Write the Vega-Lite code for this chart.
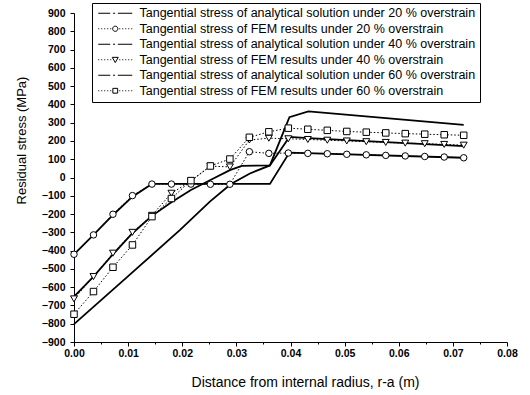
{
"$schema":"https://vega.github.io/schema/vega-lite/v6.json",
"autosize":"none",
"width":433,"height":329,
"padding":{"left":74,"top":13,"right":23,"bottom":53},
"background":"white",
"config":{"view":{"stroke":null},"font":"Liberation Sans"},
"datasets":{
"A20":[{"x":0,"y":-420},{"x":0.0036,"y":-314},{"x":0.0072,"y":-205},{"x":0.0108,"y":-105},{"x":0.0144,"y":-35},{"x":0.0362,"y":-35},{"x":0.0398,"y":136},{"x":0.072,"y":108}],
"A40":[{"x":0,"y":-652},{"x":0.0036,"y":-542},{"x":0.0072,"y":-420},{"x":0.0108,"y":-305},{"x":0.0144,"y":-210},{"x":0.018,"y":-135},{"x":0.0216,"y":-68},{"x":0.0252,"y":-14},{"x":0.0288,"y":40},{"x":0.031,"y":64},{"x":0.0362,"y":66},{"x":0.0398,"y":222},{"x":0.0433,"y":215},{"x":0.072,"y":172}],
"A60":[{"x":0,"y":-802},{"x":0.0098,"y":-545},{"x":0.0196,"y":-287},{"x":0.0251,"y":-132},{"x":0.029,"y":-36},{"x":0.0325,"y":22},{"x":0.0362,"y":66},{"x":0.0398,"y":330},{"x":0.0433,"y":362},{"x":0.072,"y":288}],
"F20":[{"x":0,"y":-420},{"x":0.0036,"y":-314},{"x":0.0072,"y":-201},{"x":0.0108,"y":-99},{"x":0.0144,"y":-36},{"x":0.018,"y":-36},{"x":0.0216,"y":-36},{"x":0.0252,"y":-37},{"x":0.0288,"y":-37},{"x":0.0324,"y":141},{"x":0.036,"y":132},{"x":0.0396,"y":134},{"x":0.0432,"y":132},{"x":0.0468,"y":130},{"x":0.0504,"y":127},{"x":0.054,"y":124},{"x":0.0576,"y":121},{"x":0.0612,"y":118},{"x":0.0648,"y":115},{"x":0.0684,"y":112},{"x":0.072,"y":108}],
"F40":[{"x":0,"y":-664},{"x":0.0036,"y":-542},{"x":0.0072,"y":-414},{"x":0.0108,"y":-300},{"x":0.0144,"y":-207},{"x":0.018,"y":-86},{"x":0.0216,"y":-20},{"x":0.0252,"y":62},{"x":0.0288,"y":58},{"x":0.0324,"y":205},{"x":0.036,"y":215},{"x":0.0396,"y":212},{"x":0.0432,"y":208},{"x":0.0468,"y":204},{"x":0.0504,"y":200},{"x":0.054,"y":196},{"x":0.0576,"y":192},{"x":0.0612,"y":188},{"x":0.0648,"y":185},{"x":0.0684,"y":181},{"x":0.072,"y":177}],
"F60":[{"x":0,"y":-748},{"x":0.0036,"y":-624},{"x":0.0072,"y":-491},{"x":0.0108,"y":-369},{"x":0.0144,"y":-214},{"x":0.018,"y":-115},{"x":0.0216,"y":-17},{"x":0.0252,"y":63},{"x":0.0288,"y":101},{"x":0.0324,"y":220},{"x":0.036,"y":250},{"x":0.0396,"y":270},{"x":0.0432,"y":264},{"x":0.0468,"y":258},{"x":0.0504,"y":252},{"x":0.054,"y":248},{"x":0.0576,"y":244},{"x":0.0612,"y":240},{"x":0.0648,"y":237},{"x":0.0684,"y":234},{"x":0.072,"y":231}],
"names":[{"s":"Tangential stress of analytical solution under 20 % overstrain","x":0,"y":0},{"s":"Tangential stress of FEM results under 20 % overstrain","x":0,"y":0},{"s":"Tangential stress of analytical solution under 40 % overstrain","x":0,"y":0},{"s":"Tangential stress of FEM results under 40 % overstrain","x":0,"y":0},{"s":"Tangential stress of analytical solution under 60 % overstrain","x":0,"y":0},{"s":"Tangential stress of FEM results under 60 % overstrain","x":0,"y":0}]
},
"encoding":{
"x":{"field":"x","type":"quantitative","scale":{"domain":[0,0.08],"nice":false,"zero":false},
"axis":{"values":[0,0.01,0.02,0.03,0.04,0.05,0.06,0.07,0.08],"format":".2f","title":"Distance from internal radius, r-a (m)","grid":false,"tickSize":4,"labelPadding":2,"labelFontSize":10.5,"labelFontWeight":"bold","labelFlush":false,"labelOverlap":false,"titleFontSize":14,"titleFontWeight":"normal","titleX":231,"titleY":40,"titleBaseline":"middle","titleAlign":"center","domainColor":"black","tickColor":"black","labelColor":"black","titleColor":"black","orient":"bottom"}},
"y":{"field":"y","type":"quantitative","scale":{"domain":[-900,900],"nice":false,"zero":false},
"axis":{"values":[-900,-800,-700,-600,-500,-400,-300,-200,-100,0,100,200,300,400,500,600,700,800,900],"title":"Residual stress (MPa)","grid":false,"tickSize":4,"labelPadding":5,"labelFontSize":10.5,"labelFontWeight":"bold","labelOverlap":false,"titleFontSize":13,"titleFontWeight":"normal","titleX":-53,"titleY":127,"titleAngle":-90,"titleBaseline":"middle","titleAlign":"center","domainColor":"black","tickColor":"black","labelColor":"black","titleColor":"black"}}
},
"resolve":{"axis":{"x":"independent"}},
"layer":[
{"layer":[
{"data":{"name":"A20"},"mark":{"type":"line","color":"black","strokeWidth":1.8}},
{"data":{"name":"A40"},"mark":{"type":"line","color":"black","strokeWidth":1.8}},
{"data":{"name":"A60"},"mark":{"type":"line","color":"black","strokeWidth":1.8}},
{"data":{"name":"F20"},"mark":{"type":"line","color":"black","strokeWidth":1,"strokeDash":[1.5,2]}},
{"data":{"name":"F40"},"mark":{"type":"line","color":"black","strokeWidth":1,"strokeDash":[1.5,2]}},
{"data":{"name":"F60"},"mark":{"type":"line","color":"black","strokeWidth":1,"strokeDash":[1.5,2]}},
{"data":{"name":"F20"},"mark":{"type":"point","shape":"circle","size":42,"filled":true,"fill":"white","stroke":"black","strokeWidth":1,"opacity":1}},
{"data":{"name":"F40"},"mark":{"type":"point","shape":"triangle-down","size":48,"filled":true,"fill":"white","stroke":"black","strokeWidth":1,"opacity":1}},
{"data":{"name":"F60"},"mark":{"type":"point","shape":"square","size":42,"filled":true,"fill":"white","stroke":"black","strokeWidth":1,"opacity":1}}
]},
{"data":{"name":"names"},"mark":{"type":"point","color":"black","size":64,"filled":false,"opacity":0},
"encoding":{
"x":{"field":"x","type":"quantitative","scale":{"domain":[0,0.08],"nice":false,"zero":false},"axis":{"orient":"bottom","values":[0.005,0.015,0.025,0.035,0.045,0.055,0.065,0.075],"labels":false,"domain":false,"grid":false,"tickSize":2,"tickColor":"black","title":null}},
"shape":{"field":"s","type":"nominal",
"scale":{"domain":["Tangential stress of analytical solution under 20 % overstrain","Tangential stress of FEM results under 20 % overstrain","Tangential stress of analytical solution under 40 % overstrain","Tangential stress of FEM results under 40 % overstrain","Tangential stress of analytical solution under 60 % overstrain","Tangential stress of FEM results under 60 % overstrain"],
"range":[
"M-1,0L2,0M2.7,0L3.2,0M3.9,0L7.5,0",
"M-1,0L-0.75,0M-0.25,0L0,0M0.5,0L0.75,0M1.25,0L1.5,0M2,0L2.25,0M2.6,0A0.65,0.65 0 1 1 3.9,0A0.65,0.65 0 1 1 2.6,0ZM4.25,0L4.5,0M5,0L5.25,0M5.75,0L6,0M6.5,0L6.75,0M7.25,0L7.5,0",
"M-1,0L2,0M2.7,0L3.2,0M3.9,0L7.5,0",
"M-1,0L-0.75,0M-0.25,0L0,0M0.5,0L0.75,0M1.25,0L1.5,0M2,0L2.25,0M2.5,-0.6L4,-0.6L3.25,0.7ZM4.25,0L4.5,0M5,0L5.25,0M5.75,0L6,0M6.5,0L6.75,0M7.25,0L7.5,0",
"M-1,0L2,0M2.7,0L3.2,0M3.9,0L7.5,0",
"M-1,0L-0.75,0M-0.25,0L0,0M0.5,0L0.75,0M1.25,0L1.5,0M2,0L2.25,0M2.65,-0.6L3.85,-0.6L3.85,0.6L2.65,0.6ZM4.25,0L4.5,0M5,0L5.25,0M5.75,0L6,0M6.5,0L6.75,0M7.25,0L7.5,0"
]},
"legend":{"orient":"none","legendX":18,"legendY":-10,"title":null,"padding":4,"strokeColor":"black","fillColor":"white","cornerRadius":0,"labelFont":"Liberation Sans","labelFontSize":12.5,"labelColor":"black","labelOffset":31,"labelLimit":500,"rowPadding":2.5,"symbolStrokeWidth":1,"symbolStrokeColor":"black","symbolFillColor":"white","symbolOpacity":1,"symbolSize":64}}}}
]
}
